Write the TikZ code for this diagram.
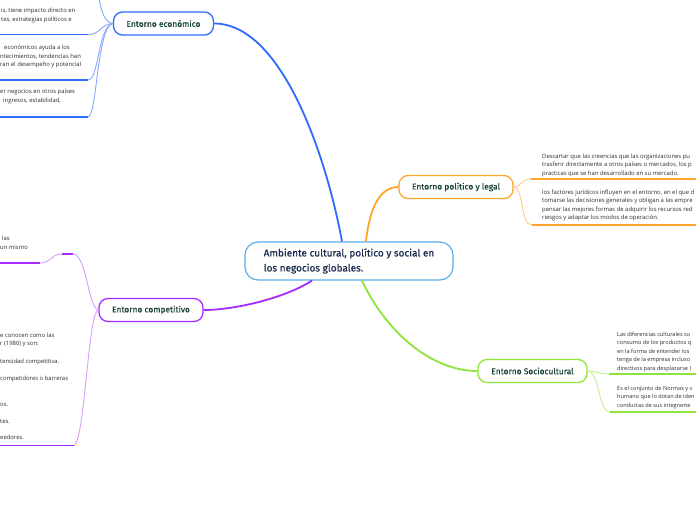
\documentclass[tikz,border=0pt]{standalone}
\usepackage{fontspec}
\setmainfont{Open Sans}
\newfontfamily\titlefont{Fira Sans}[FakeBold=0.5]
\definecolor{econ}{HTML}{2F6BFF}
\definecolor{econsub}{HTML}{86A8FF}
\definecolor{pol}{HTML}{FFA52B}
\definecolor{polsub}{HTML}{FFCB82}
\definecolor{soc}{HTML}{8FE33B}
\definecolor{socsub}{HTML}{C2F28E}
\definecolor{comp}{HTML}{A52BFF}
\definecolor{compsub}{HTML}{D69EFF}
\definecolor{cborder}{HTML}{5CADE8}
\definecolor{titlec}{HTML}{1B4536}
\definecolor{centc}{HTML}{1A2A4E}
\definecolor{smallc}{HTML}{2E2E2E}
\tikzset{
  topic/.style={draw=#1, line width=1.3pt, rounded corners=9pt, fill=white,
    minimum height=23pt, inner sep=0pt, font=\titlefont\fontsize{8.4}{10}\selectfont, text=titlec},
  centralbox/.style={draw=cborder, line width=1.2pt, rounded corners=13pt, fill=white,
    minimum width=208pt, minimum height=38pt, inner sep=0pt, align=left,
    font=\titlefont\fontsize{10}{15}\selectfont, text=centc},
  txt/.style={anchor=base west, inner sep=0pt, font=\fontsize{5.9}{7}\selectfont, text=smallc},
  stxt/.style={txt, font=\fontsize{5.6}{7}\selectfont},
  mainc/.style={draw=#1, line width=1.8pt},
  subc/.style={draw=#1, line width=0.9pt},
  uline/.style={draw=#1, line width=1.8pt}
}
\begin{document}
\begin{tikzpicture}[x=1pt,y=-1pt]
\clip (0,0) rectangle (696,520);
\fill[white] (0,0) rectangle (696,520);

% nodes
\node[centralbox] (central) at (349,261) {Ambiente cultural, político y social en\\los negocios globales.};
\node[topic=econ, minimum width=100pt] (econ) at (163.5,23.5) {Entorno económico};
\node[topic=pol, minimum width=114pt] (pol) at (456,187) {Entorno político y legal};
\node[topic=soc, minimum width=109pt] (soc) at (532.5,371) {Entorno Sociocultural};
\node[topic=comp, minimum width=104pt] (comp) at (151,310) {Entorno competitivo};

% main connectors
\draw[mainc=econ] ([xshift=-7pt]central.north) .. controls (325,150) and (280,23.5) .. (econ.east);
\draw[mainc=pol] ([xshift=17pt]central.north) .. controls (370,205) and (381,187) .. (pol.west);
\draw[mainc=soc] ([xshift=13pt]central.south) .. controls (385,330) and (430,371) .. (soc.west);
\draw[mainc=comp] ([xshift=-37pt]central.south) .. controls (285,298) and (235,310) .. (comp.east);

% ---- economic sub items
\coordinate (etop) at (98,-6);
\coordinate (e1s) at (0,34.5); \coordinate (e1e) at (88,34.5);
\coordinate (e2s) at (0,80);   \coordinate (e2e) at (88,80);
\coordinate (e3s) at (0,117);  \coordinate (e3e) at (88,117);
\draw[subc=econsub] (econ.west) .. controls (103,22) and (101,8) .. (etop);
\draw[subc=econsub] (econ.west) .. controls (100,24) and (101,34.5) .. (e1e);
\draw[subc=econsub] (econ.west) .. controls (98,26) and (99,80) .. (e2e);
\draw[subc=econsub] (econ.west) .. controls (97,26) and (97,117) .. (e3e);
\draw[uline=econ] (e1s) -- (e1e);
\draw[uline=econ] (e2s) -- (e2e);
\draw[uline=econ] (e3s) -- (e3e);
\node[txt] (ea1) at (1,12.5) {is, tiene impacto directo en};
\node[txt] (ea2) at (1,21) {tes, estrategias políticos e};
\node[txt] (eb1) at (4,49.5) {económicos ayuda a los};
\node[txt] (eb2) at (0,58) {ntecimientos, tendencias han};
\node[txt] (eb3) at (0,66.5) {ran el desempeño y potencial};
\node[txt] (ec1) at (0,93.5) {er negocios en otros países};
\node[txt] (ec2) at (3,102) {ingresos, estabilidad,};

% ---- political sub items
\coordinate (p1s) at (531,179); \coordinate (p1e) at (700,179);
\coordinate (p2s) at (532,225); \coordinate (p2e) at (700,225);
\draw[subc=polsub] (pol.east) .. controls (522,187) and (520,179) .. (p1s);
\draw[subc=polsub] (pol.east) .. controls (524,187) and (520,225) .. (p2s);
\draw[uline=pol] (p1s) -- (p1e);
\draw[uline=pol] (p2s) -- (p2e);
\node[txt] (pa1) at (542,158) {Descartar que las creencias  que las organizaciones pu};
\node[txt] (pa2) at (542,166.5) {trasferir directamente a otros países o mercados, los p};
\node[txt] (pa3) at (542,175) {practicas que se han desarrollado en su mercado.};
\node[txt] (pb1) at (542,194) {los factores jurídicos influyen en el entorno, en el que d};
\node[txt] (pb2) at (542,202.5) {tomarse las decisiones generales y obligan a las empre};
\node[txt] (pb3) at (542,211) {pensar las mejores formas de adquirir los recursos red};
\node[txt] (pb4) at (542,219.5) {riesgos y adaptar los modos de operación.};

% ---- sociocultural sub items
\coordinate (s1s) at (609,374); \coordinate (s1e) at (700,374);
\coordinate (s2s) at (610,412); \coordinate (s2e) at (700,412);
\draw[subc=socsub] (soc.east) .. controls (597,371) and (598,374) .. (s1s);
\draw[subc=socsub] (soc.east) .. controls (600,372) and (598,412) .. (s2s);
\draw[uline=soc] (s1s) -- (s1e);
\draw[uline=soc] (s2s) -- (s2e);
\node[stxt] (sa1) at (617,336) {Las diferencias culturales so};
\node[stxt] (sa2) at (617,344.5) {consumo de los productos q};
\node[stxt] (sa3) at (617,353) {en la forma de entender los};
\node[stxt] (sa4) at (617,361.5) {tenga de la empresa incluso};
\node[stxt] (sa5) at (617,370) {directivos para desplazarse l};
\node[stxt] (sb1) at (617,390) {Es el conjunto de Normas y v};
\node[stxt] (sb2) at (617,398.5) {humano que lo dotan de iden};
\node[stxt] (sb3) at (617,407) {conductas de sus integrante};

% ---- competitive sub items
\coordinate (c0s) at (62,254); \coordinate (c0e) at (73,254);
\coordinate (c1s) at (0,263);  \coordinate (c1e) at (40,263);
\coordinate (c2s) at (0,445.5);  \coordinate (c2e) at (74,445.5);
\draw[subc=compsub] (comp.west) .. controls (88,308) and (87,255) .. (c0e);
\draw[uline=comp] (c0s) -- (c0e);
\draw[subc=compsub] (c0s) .. controls (50,254) and (52,263) .. (c1e);
\draw[uline=comp] (c1s) -- (c1e);
\draw[subc=compsub] (comp.west) .. controls (88,312) and (85,440) .. (c2e);
\draw[uline=comp] (c2s) -- (c2e);
\node[txt] (ca1) at (2,240) {las};
\node[txt] (ca2) at (0,249.5) {un mismo};
\node[txt] (cb1) at (0,337) {e conocen como las};
\node[txt] (cb2) at (0,345) {r (1980) y son:};
\node[txt] (cb3) at (0,363) {tensidad competitiva.};
\node[txt] (cb4) at (0,380) {competidores o barreras};
\node[txt] (cb5) at (0,406) {os.};
\node[txt] (cb6) at (0,423) {tes.};
\node[txt] (cb7) at (0,439.5) {eedores.};
\end{tikzpicture}
\end{document}
